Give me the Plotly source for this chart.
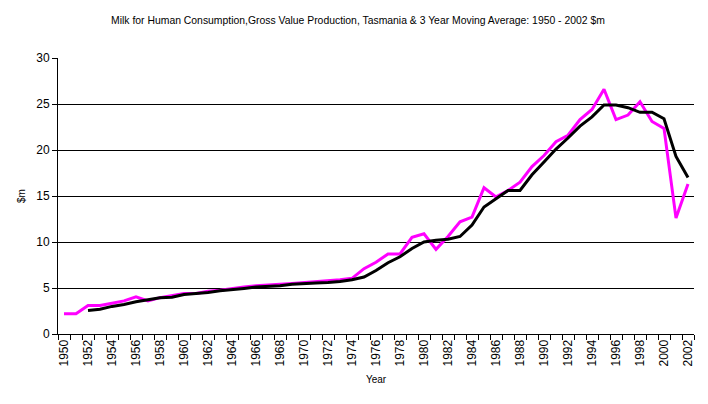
import plotly.graph_objects as go

years = list(range(1950, 2003))
value = [2.2, 2.2, 3.1, 3.1, 3.35, 3.6, 4.05, 3.6, 3.95, 4.2,
         4.4, 4.4, 4.65, 4.75, 4.95, 5.1, 5.25, 5.3, 5.4, 5.5,
         5.6, 5.7, 5.75, 5.9, 6.05, 7.1, 7.8, 8.7, 8.7, 10.5,
         10.9, 9.2, 10.6, 12.2, 12.7, 15.9, 14.9, 15.6, 16.5, 18.2,
         19.4, 20.9, 21.6, 23.3, 24.4, 26.6, 23.3, 23.8, 25.25, 23.1,
         22.35, 12.6, 16.3]
moving_avg = [None, None, 2.55, 2.7, 3.0, 3.2, 3.5, 3.75, 3.95, 4.0,
              4.3, 4.4, 4.5, 4.7, 4.8, 4.95, 5.1, 5.15, 5.25, 5.4,
              5.5, 5.55, 5.6, 5.7, 5.9, 6.2, 6.9, 7.75, 8.4, 9.3,
              10.0, 10.2, 10.3, 10.6, 11.85, 13.8, 14.7, 15.6, 15.6, 17.3,
              18.7, 20.1, 21.3, 22.6, 23.6, 24.9, 24.9, 24.6, 24.1, 24.1,
              23.4, 19.3, 17.0]
tick_years = list(range(1950, 2003, 2))

fig = go.Figure()
fig.add_trace(go.Scatter(x=years, y=value, mode="lines",
                         line=dict(color="#FF00FF", width=3), name="Value"))
fig.add_trace(go.Scatter(x=years, y=moving_avg, mode="lines",
                         line=dict(color="#000000", width=3), name="3 Year Moving Average"))

fig.update_layout(
    width=700, height=396,
    margin=dict(l=50, r=14, t=50, b=70),
    paper_bgcolor="white", plot_bgcolor="white",
    showlegend=False,
    font=dict(family="Liberation Sans, Arial, sans-serif", color="black", size=12),
    title=dict(text="Milk for Human Consumption,Gross Value Production, Tasmania & 3 Year Moving Average: 1950 - 2002 $m",
               x=0.5, xanchor="center", y=0.97, yanchor="middle",
               font=dict(size=10.4, color="black")),
)
fig.update_xaxes(
    range=[1949.5, 2002.5], tickmode="array", tickvals=tick_years,
    ticktext=[str(y) for y in tick_years], tickangle=-90,
    ticks="", showgrid=False, showline=True, linecolor="black", linewidth=1,
    tickfont=dict(size=12), zeroline=False,
    minor=dict(tickmode="linear", tick0=1949.5, dtick=1, ticks="outside",
               ticklen=5, tickcolor="black", showgrid=False),
    title=dict(text="Year", font=dict(size=10), standoff=10),
)
fig.update_yaxes(
    range=[0, 30], dtick=5, ticks="outside", ticklen=5, tickcolor="black",
    showgrid=True, gridcolor="black", gridwidth=1,
    showline=True, linecolor="black", linewidth=1, zeroline=False,
    tickfont=dict(size=12),
    title=dict(text="$m", font=dict(size=10), standoff=8),
)
fig.write_html("out.html")
